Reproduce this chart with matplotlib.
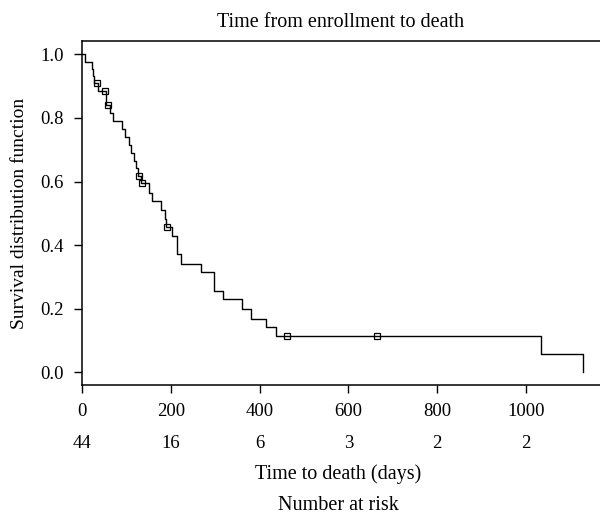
import numpy as np
import matplotlib
matplotlib.use("Agg")
import matplotlib.pyplot as plt
from matplotlib.transforms import blended_transform_factory

plt.rcParams['font.family'] = ['Liberation Serif', 'DejaVu Serif']

# Kaplan-Meier step curve (time in days, survival after that time)
step_times = [0, 7, 22, 24, 28, 35, 55, 63, 70, 91, 97, 106, 110, 116, 122, 127, 132,
              151, 157, 179, 187, 189, 202, 214, 223, 268, 297, 318, 361, 381, 414, 438,
              1035, 1129]
step_surv = [1.0, 0.977, 0.955, 0.932, 0.909, 0.886, 0.840, 0.814, 0.791, 0.765, 0.741,
             0.715, 0.690, 0.664, 0.641, 0.618, 0.594, 0.565, 0.539, 0.510, 0.482, 0.458,
             0.428, 0.372, 0.341, 0.314, 0.256, 0.230, 0.199, 0.169, 0.143, 0.114,
             0.057, 0.0]
censor_times = [33, 52, 59, 129, 136, 192, 461, 664]

risk_times = [0, 200, 400, 600, 800, 1000]
risk_counts = [44, 16, 6, 3, 2, 2]
x_ticks = [0, 200, 400, 600, 800, 1000]
y_ticks = [0.0, 0.2, 0.4, 0.6, 0.8, 1.0]

FS = 13.5

fig = plt.figure(figsize=(6.0, 5.17), dpi=100)
ax = fig.add_axes([0.1367, 0.2553, 0.8633, 0.6654])

ax.step(step_times, step_surv, where='post', color='black', lw=1.0)
idx = np.searchsorted(step_times, censor_times, side='right') - 1
censor_surv = [step_surv[i] for i in idx]
ax.plot(censor_times, censor_surv, linestyle='none', marker='s', markersize=5,
        markerfacecolor='none', markeredgecolor='black', markeredgewidth=0.9)

ax.set_xlim(0, 1167)
ax.set_ylim(-0.040, 1.042)
ax.spines['right'].set_visible(False)
for s in ['left', 'top', 'bottom']:
    ax.spines[s].set_linewidth(1.1)
ax.set_xticks(x_ticks)
ax.set_yticks(y_ticks)
ax.set_yticklabels([f"{v:.1f}" for v in y_ticks])
ax.tick_params(direction='out', length=6, width=1.0, labelsize=FS, pad=7)
ax.tick_params(axis='y', pad=7)

ax.set_title("Time from enrollment to death", fontsize=14.5, pad=10)
ax.set_ylabel("Survival distribution function", fontsize=14, labelpad=9)

trans = blended_transform_factory(ax.transData, fig.transFigure)
for t, n in zip(risk_times, risk_counts):
    ax.text(t, 1 - 443 / 517, str(n), transform=trans, ha='center', va='center',
            fontsize=FS, clip_on=False)

cx = 0.1367 + 0.8633 * 0.5 - 0.004
fig.text(cx, 1 - 474 / 517, "Time to death (days)", ha='center', va='center', fontsize=14.5)
fig.text(cx, 1 - 505 / 517, "Number at risk", ha='center', va='center', fontsize=14.5)

fig.savefig("out.png", dpi=100)
